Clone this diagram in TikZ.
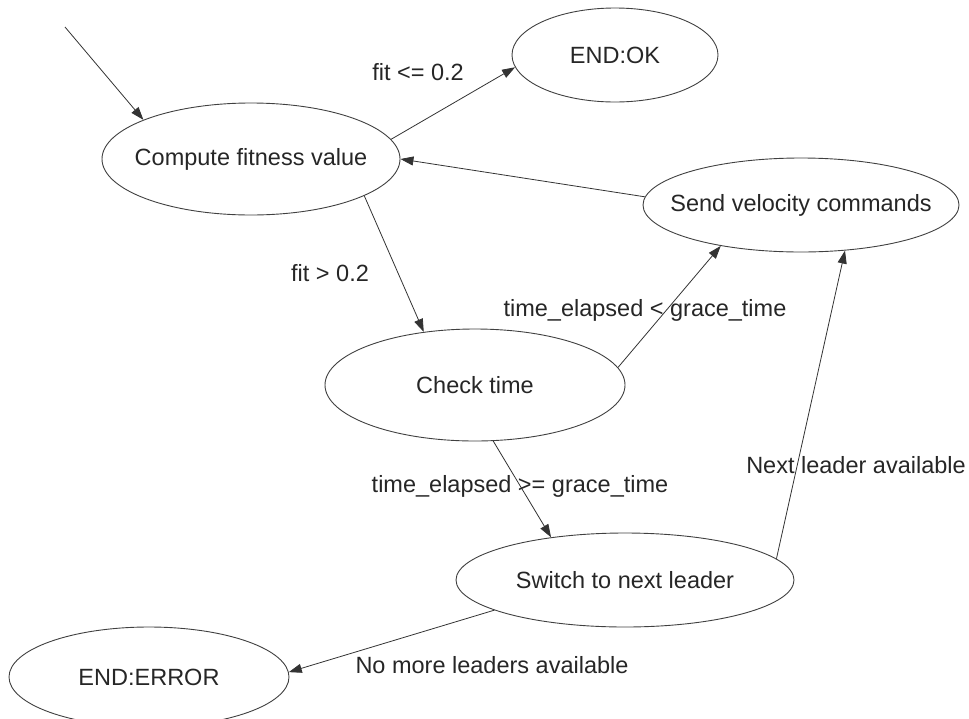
\documentclass[tikz,border=0pt]{standalone}
\usepackage{fontspec}
\setmainfont{Liberation Sans}
\usetikzlibrary{shapes.geometric,arrows.meta}
\begin{document}
\begin{tikzpicture}[x=1pt,y=-1pt,
  every node/.style={font=\fontsize{23.5}{28}\selectfont, text=black!85},
  state/.style={ellipse, draw=black!75, line width=0.9pt, inner sep=0pt},
  lbl/.style={inner sep=0pt},
  conn/.style={draw=black!80, line width=0.8pt, -{Triangle[length=13pt,width=9pt]}}]
\useasboundingbox (0,0) rectangle (969,718);

\node[state, minimum width=298pt, minimum height=112pt] (comp) at (251,159) {\makebox[0pt]{Compute fitness value}};
\node[state, minimum width=206pt, minimum height=94pt] (ok) at (615,55) {\makebox[0pt]{END:OK}};
\node[state, minimum width=316pt, minimum height=94pt] (send) at (801,205) {\makebox[0pt]{Send velocity commands}};
\node[state, minimum width=300pt, minimum height=112pt] (check) at (475,385) {\makebox[0pt]{Check time}};
\node[state, minimum width=338pt, minimum height=94pt] (switch) at (625,580) {\makebox[0pt]{Switch to next leader}};
\node[state, minimum width=280pt, minimum height=100pt] (err) at (149,677) {\makebox[0pt]{END:ERROR}};

\coordinate (s0) at (65,27);
\draw[conn] (s0) -- (comp.160);
\draw[conn] (comp.8) -- (ok.187);
\draw[conn] (send.177) -- (comp.0);
\draw[conn] (comp.-18) -- (check.134);
\draw[conn] (check.7) -- (send.207);
\draw[conn] (check.-72) -- (switch.150);
\draw[conn] (switch.8) -- (send.-46);
\draw[conn] (switch.193) -- (err.2);

\node[lbl] (l1) at (418,72) {fit <= 0.2};
\node[lbl] (l2) at (330,273) {fit > 0.2};
\node[lbl] (l3) at (645,310) {time\_elapsed < grace\_time};
\node[lbl] (l4) at (520,486) {time\_elapsed >= grace\_time};
\node[lbl] (l5) at (856,465) {Next leader available};
\node[lbl] (l6) at (492,665) {No more leaders available};
\end{tikzpicture}
\end{document}
